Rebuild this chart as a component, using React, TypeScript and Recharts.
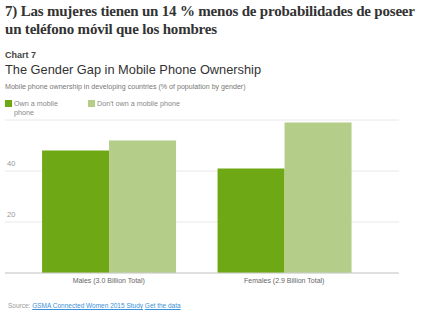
import React from 'react';
import { BarChart, Bar, XAxis, YAxis, CartesianGrid } from 'recharts';

const categories = ['Males (3.0 Billion Total)', 'Females (2.9 Billion Total)'];
const ownPhone = [48, 41];
const noPhone = [52, 59];
const yTicks = [0, 20, 40];

const data = categories.map((name, i) => ({ name, own: ownPhone[i], notOwn: noPhone[i] }));

const DARK = '#6ea814';
const LIGHT = '#b4ce8a';

const renderYTick = (props: any) => {
  const { y, payload } = props;
  if (payload.value === 0) return <g />;
  return (
    <text x={7} y={y - 5} fontSize={7.5} fill="#999" fontFamily="Liberation Sans, Arial, sans-serif">
      {payload.value}
    </text>
  );
};

const legendItem = (color: string, label: string, left: number, width: number) => (
  <div style={{ position: 'absolute', left, top: 99, display: 'flex', alignItems: 'flex-start' }}>
    <div style={{ width: 7, height: 7, background: color, marginTop: 1, marginRight: 2 }} />
    <div style={{ width, fontSize: 7.2, lineHeight: '9px', color: '#888' }}>{label}</div>
  </div>
);

const App: React.FC = () => {
  return (
    <div
      style={{
        position: 'absolute',
        left: 0,
        top: 0,
        width: 424,
        height: 325,
        background: '#fff',
        fontFamily: 'Liberation Sans, Arial, sans-serif',
      }}
    >
      <div
        style={{
          position: 'absolute',
          left: 5,
          top: 2,
          width: 410,
          fontFamily: 'Liberation Serif, serif',
          fontWeight: 'bold',
          fontSize: 15,
          lineHeight: '18px',
          color: '#333',
          letterSpacing: -0.2,
        }}
      >
        7) Las mujeres tienen un 14 % menos de probabilidades de poseer
        <br />
        un teléfono móvil que los hombres
      </div>
      <div style={{ position: 'absolute', left: 5, top: 50, fontSize: 9, fontWeight: 'bold', color: '#444' }}>
        Chart 7
      </div>
      <div style={{ position: 'absolute', left: 5, top: 62, fontSize: 12.8, color: '#333' }}>
        The Gender Gap in Mobile Phone Ownership
      </div>
      <div style={{ position: 'absolute', left: 5, top: 83, fontSize: 7.1, color: '#777' }}>
        Mobile phone ownership in developing countries (% of population by gender)
      </div>
      {legendItem(DARK, 'Own a mobile phone', 5, 46)}
      {legendItem(LIGHT, "Don't own a mobile phone", 88, 110)}
      <div style={{ position: 'absolute', left: 0, top: 95 }}>
        <BarChart
          width={424}
          height={198}
          data={data}
          margin={{ top: 25, right: 25, left: 4, bottom: 0 }}
          barCategoryGap="12%"
          barGap={0}
        >
          <CartesianGrid vertical={false} stroke="#e8e8e8" />
          <XAxis
            dataKey="name"
            padding={{ left: 16, right: 27 }}
            axisLine={{ stroke: '#ccc' }}
            tickLine={false}
            tick={{ fontSize: 7, fill: '#666', dy: -3 }}
            height={20}
            interval={0}
          />
          <YAxis
            domain={[0, 60]}
            ticks={yTicks}
            width={1}
            interval={0}
            axisLine={false}
            tickLine={false}
            tick={renderYTick}
          />
          <Bar dataKey="own" fill={DARK} isAnimationActive={false} />
          <Bar dataKey="notOwn" fill={LIGHT} isAnimationActive={false} />
        </BarChart>
      </div>
      <div style={{ position: 'absolute', left: 8, top: 302, fontSize: 6.5, color: '#999' }}>
        Source:{' '}
        <span style={{ color: '#3a90d8', textDecoration: 'underline' }}>GSMA Connected Women 2015 Study</span>{' '}
        <span style={{ color: '#3a90d8', textDecoration: 'underline' }}>Get the data</span>
      </div>
    </div>
  );
};

export default App;
